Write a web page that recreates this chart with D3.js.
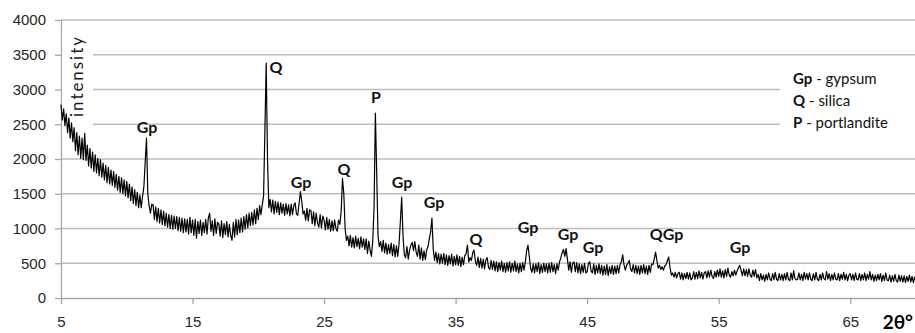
<!DOCTYPE html>
<html>
<head>
<meta charset="utf-8">
<script src="https://cdn.jsdelivr.net/npm/d3@7"></script>
<style>
  body { margin: 0; background: #fff; }
  svg { display: block; font-family: Lato, 'Open Sans', 'DejaVu Sans', sans-serif; }
</style>
</head>
<body>
<div id="chart"></div>
<script>
// diffraction pattern, 2θ from 5° to 70°, 0.1° step
const angleStart = 5;
const angleStep = 0.1;
const intensity = [
  2780, 2560, 2720, 2480, 2650, 2380, 2590, 2300, 2520, 2250,
  2450, 2120, 2380, 2060, 2330, 2010, 2300, 1990, 2370, 1980,
  2200, 1900, 2150, 1870, 2100, 1820, 2060, 1800, 2010, 1760,
  1990, 1740, 1940, 1700, 1910, 1660, 1880, 1640, 1840, 1620,
  1820, 1590, 1780, 1550, 1750, 1520, 1730, 1500, 1700, 1470,
  1680, 1440, 1640, 1400, 1600, 1360, 1560, 1330, 1520, 1300,
  1480, 1300, 1460, 1600, 1950, 2300, 1500, 1330, 1220, 1350,
  1340, 1130, 1310, 1100, 1290, 1080, 1270, 1060, 1250, 1040,
  1220, 1020, 1200, 1000, 1190, 990, 1180, 1000, 1170, 970,
  1160, 960, 1150, 940, 1140, 950, 1130, 920, 1160, 940,
  1120, 900, 1130, 860, 1100, 930, 1120, 900, 1090, 940,
  1130, 920, 1150, 1220, 960, 1110, 900, 1140, 930, 1090,
  1060, 890, 1110, 870, 1070, 910, 1100, 880, 1060, 900,
  830, 1090, 880, 1130, 910, 1120, 940, 1150, 950, 1170,
  990, 1200, 1010, 1220, 1040, 1230, 1050, 1270, 1070, 1290,
  1130, 1330, 1200, 1340, 1470, 2400, 3380, 2000, 1300, 1420,
  1240, 1410, 1210, 1390, 1230, 1380, 1200, 1370, 1220, 1350,
  1190, 1360, 1210, 1340, 1180, 1350, 1200, 1330, 1370, 1210,
  1190, 1360, 1530, 1400, 1210, 1250, 1120, 1290, 1110, 1270,
  1260, 1070, 1240, 1040, 1220, 1080, 1020, 1200, 1010, 1180,
  1120, 980, 1160, 990, 1130, 960, 1110, 970, 1120, 1000,
  960, 1120, 1060, 1250, 1720, 1500, 1000, 830, 890, 750,
  900, 730, 870, 720, 890, 740, 860, 710, 880, 730,
  850, 700, 850, 640, 820, 690, 600, 820, 1300, 2660,
  1800, 900, 740, 810, 670, 830, 650, 790, 630, 770,
  640, 790, 610, 770, 590, 750, 600, 780, 1100, 1450,
  900, 620, 580, 740, 560, 690, 760, 800, 680, 810,
  660, 600, 760, 560, 720, 540, 680, 550, 690, 740,
  850, 950, 1150, 700, 540, 660, 510, 640, 490, 630,
  500, 640, 480, 620, 470, 610, 490, 630, 460, 600,
  480, 620, 470, 600, 450, 590, 480, 610, 640, 760,
  520, 580, 540, 650, 690, 530, 470, 590, 440, 570,
  430, 560, 420, 550, 580, 440, 410, 540, 410, 530,
  390, 520, 380, 510, 400, 530, 380, 500, 370, 510,
  390, 520, 370, 500, 390, 530, 380, 490, 360, 500,
  380, 510, 400, 520, 680, 760, 600, 430, 370, 490,
  360, 490, 380, 510, 350, 480, 370, 500, 380, 490,
  360, 500, 370, 510, 380, 480, 350, 490, 400, 520,
  580, 650, 700, 600, 710, 560, 400, 520, 370, 500,
  520, 380, 510, 360, 490, 350, 480, 370, 500, 360,
  380, 500, 520, 390, 360, 490, 340, 470, 360, 490,
  350, 470, 330, 460, 340, 480, 320, 450, 350, 470,
  340, 460, 350, 470, 360, 480, 520, 620, 480, 400,
  470, 500, 540, 420, 380, 480, 360, 470, 350, 460,
  340, 470, 360, 480, 350, 460, 340, 470, 370, 490,
  480, 560, 660, 540, 430, 470, 410, 450, 400, 460,
  480, 540, 590, 440, 330, 360, 300, 370, 290, 350,
  370, 270, 360, 260, 350, 280, 370, 270, 360, 260,
  290, 380, 270, 370, 280, 390, 290, 370, 270, 360,
  380, 290, 390, 300, 400, 310, 280, 380, 300, 400,
  310, 420, 300, 390, 290, 410, 310, 430, 330, 300,
  380, 320, 400, 330, 390, 430, 470, 400, 320, 420,
  320, 410, 310, 420, 330, 300, 400, 310, 410, 290,
  340, 250, 350, 260, 330, 240, 340, 260, 360, 270,
  250, 350, 260, 370, 270, 250, 350, 260, 340, 250,
  350, 260, 370, 270, 250, 360, 260, 390, 280, 260,
  270, 360, 260, 340, 250, 370, 270, 350, 260, 360,
  270, 250, 350, 260, 370, 270, 250, 340, 260, 360,
  280, 260, 380, 270, 350, 250, 340, 260, 360, 270,
  260, 350, 250, 340, 270, 370, 260, 340, 250, 330,
  350, 260, 340, 250, 360, 270, 260, 350, 250, 340,
  260, 360, 250, 340, 270, 380, 260, 340, 240, 330,
  250, 340, 260, 350, 240, 330, 250, 360, 260, 250,
  330, 230, 320, 240, 340, 250, 230, 330, 240, 320,
  230, 320, 220, 310, 240, 330, 230, 310, 220, 300,
  260
];

// peak labels: text, 2θ at label centre, intensity level of the label baseline
const peakText = ['Gp', 'Q', 'Gp', 'Q', 'P', 'Gp', 'Gp', 'Q', 'Gp', 'Gp', 'Gp', 'QGp', 'Gp'];
const peakAngle = [11.54, 21.35, 23.25, 26.51, 28.95, 30.92, 33.36, 36.55, 40.5, 43.54, 45.44, 51.03, 56.62];
const peakLevel = [2374, 3237, 1583, 1770, 2806, 1583, 1295, 763, 935, 835, 647, 835, 647];

const yTicks = [0, 500, 1000, 1500, 2000, 2500, 3000, 3500, 4000];
const xTicks = [5, 15, 25, 35, 45, 55, 65];

const legendKeys = ['Gp', 'Q', 'P'];
const legendNames = ['gypsum', 'silica', 'portlandite'];

const width = 915;
const height = 333;
const margin = { top: 20, right: 0, bottom: 35, left: 61 };

const points = intensity.map((v, i) => [angleStart + i * angleStep, v]);

const x = d3.scaleLinear().domain([5, 70]).range([margin.left, width - margin.right + 1]);
const y = d3.scaleLinear().domain([0, 4000]).range([height - margin.bottom, margin.top]);

const svg = d3.select('#chart').append('svg')
  .attr('width', width)
  .attr('height', height);

// gridlines
svg.append('g')
  .selectAll('line')
  .data(yTicks.filter(d => d > 0))
  .enter()
  .append('line')
  .attr('x1', margin.left)
  .attr('x2', width)
  .attr('y1', d => y(d))
  .attr('y2', d => y(d))
  .attr('stroke', '#bdbdbd')
  .attr('stroke-width', 1.3);

// y axis
const yAxis = svg.append('g')
  .attr('transform', `translate(${margin.left},0)`)
  .call(d3.axisLeft(y).tickValues(yTicks).tickFormat(d3.format('d'))
    .tickSizeInner(6).tickSizeOuter(0).tickPadding(9));
yAxis.select('.domain').attr('stroke', '#a6a6a6').attr('stroke-width', 1.3);
yAxis.selectAll('.tick line').attr('stroke', '#a6a6a6').attr('stroke-width', 1.3);
yAxis.selectAll('text').attr('font-size', 15).attr('fill', '#262626').attr('font-family', null);

// x axis
const xAxis = svg.append('g')
  .attr('transform', `translate(0,${y(0)})`)
  .call(d3.axisBottom(x).tickValues(xTicks).tickSizeInner(6).tickSizeOuter(0).tickPadding(12));
xAxis.select('.domain').attr('stroke', '#a6a6a6').attr('stroke-width', 1.3);
xAxis.selectAll('.tick line').attr('stroke', '#a6a6a6').attr('stroke-width', 1.3);
xAxis.selectAll('text').attr('font-size', 15).attr('fill', '#262626').attr('font-family', null);

// white boxes behind the axis title and the legend
svg.append('rect')
  .attr('x', margin.left + 1).attr('y', 30)
  .attr('width', 31).attr('height', 104)
  .attr('fill', '#fff');
svg.append('rect')
  .attr('x', 780).attr('y', 62)
  .attr('width', 135).attr('height', 78)
  .attr('fill', '#fff');

// pattern
const line = d3.line()
  .x(d => x(d[0]))
  .y(d => y(d[1]));

svg.append('path')
  .datum(points)
  .attr('fill', 'none')
  .attr('stroke', '#000')
  .attr('stroke-width', 1.2)
  .attr('stroke-linejoin', 'round')
  .attr('d', line);

// axis titles
svg.append('text')
  .attr('transform', `translate(83,77) rotate(-90)`)
  .attr('text-anchor', 'middle')
  .attr('font-size', 17)
  .attr('fill', '#1a1a1a')
  .attr('textLength', 80)
  .attr('lengthAdjust', 'spacing')
  .text('intensity');

svg.append('text')
  .attr('x', 913)
  .attr('y', 329)
  .attr('text-anchor', 'end')
  .attr('font-size', 19)
  .attr('font-weight', 'bold')
  .attr('fill', '#000')
  .text('2θ°');

// peak labels
svg.append('g')
  .selectAll('text')
  .data(peakText)
  .enter()
  .append('text')
  .attr('x', (d, i) => x(peakAngle[i]))
  .attr('y', (d, i) => y(peakLevel[i]))
  .attr('text-anchor', 'middle')
  .attr('font-size', 16)
  .attr('font-weight', 'bold')
  .attr('fill', '#111')
  .text(d => d);

// legend
const legend = svg.append('g')
  .selectAll('text')
  .data(legendKeys)
  .enter()
  .append('text')
  .attr('x', 793)
  .attr('y', (d, i) => 84 + i * 22)
  .attr('font-size', 15)
  .attr('fill', '#111');
legend.append('tspan').attr('font-weight', 'bold').text(d => d);
legend.append('tspan').text((d, i) => ' - ' + legendNames[i]);
</script>
</body>
</html>
